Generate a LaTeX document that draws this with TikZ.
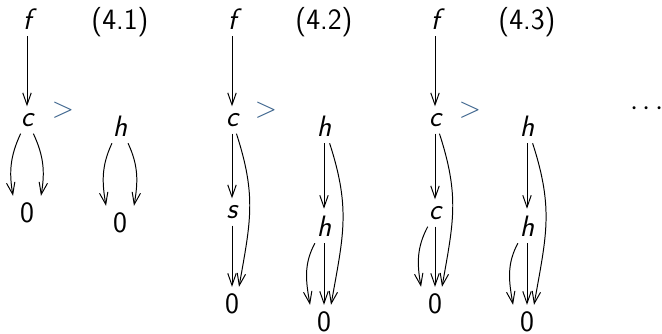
\documentclass[tikz,border=0pt]{standalone}
\usetikzlibrary{arrows.meta}

\definecolor{gtblue}{RGB}{59,99,140}
\newcommand{\lbl}[1]{{\slshape #1}}

\begin{document}
\begin{tikzpicture}[
    x=0.025cm, y=-0.025cm,
    every node/.style={font=\fontsize{21}{25}\selectfont\sffamily, inner sep=5pt, outer sep=0pt},
    arr/.style={-{Straight Barb[length=8.5pt,width=6pt]}, line width=0.7pt},
    gt/.style={text=gtblue, inner sep=0pt}
]

\useasboundingbox (0,0) rectangle (662,334);

% first pair
\node (fA) at (27,19) {\lbl{f}};
\node (cA) at (27,120) {\lbl{c}};
\node (zA) at (27,213) {0};
\node[gt] (gtA) at (63,110) {$>$};
\node (hA) at (120,126) {\lbl{h}};
\node (zA2) at (120,223) {0};
\node (eqA) at (120,22) {(4.1)};

\draw[arr] (fA) -- (cA);
\draw[arr] (cA) to[out=-115, in=100] (zA.north west);
\draw[arr] (cA) to[out=-65, in=80] (zA.north east);
\draw[arr] (hA) to[out=-115, in=100] (zA2.north west);
\draw[arr] (hA) to[out=-65, in=80] (zA2.north east);

% second pair
\node (fB) at (232,19) {\lbl{f}};
\node (cB) at (232,120) {\lbl{c}};
\node (sB) at (232,212) {\lbl{s}};
\node (zB) at (232,304) {0};
\node[gt] (gtB) at (266,110) {$>$};
\node (hB) at (324,126) {\lbl{h}};
\node (hB2) at (324,226) {\lbl{h}};
\node (zB2) at (324,322) {0};
\node (eqB) at (324,22) {(4.2)};

\draw[arr] (fB) -- (cB);
\draw[arr] (cB) -- (sB);
\draw[arr] (sB) -- (zB);
\draw[arr] (cB) to[out=-72, in=80, looseness=1.1] ([xshift=5pt]zB.north);
\draw[arr] (hB) -- (hB2);
\draw[arr] (hB) to[out=-72, in=80, looseness=1.1] ([xshift=5pt]zB2.north);
\draw[arr] (hB2) to[out=-118, in=100] (zB2.north west);
\draw[arr] (hB2) -- (zB2);

% third pair
\node (fC) at (435,19) {\lbl{f}};
\node (cC) at (435,120) {\lbl{c}};
\node (cC2) at (435,213) {\lbl{c}};
\node (zC) at (435,304) {0};
\node[gt] (gtC) at (470,110) {$>$};
\node (hC) at (527,126) {\lbl{h}};
\node (hC2) at (527,226) {\lbl{h}};
\node (zC2) at (527,322) {0};
\node (eqC) at (527,22) {(4.3)};

\draw[arr] (fC) -- (cC);
\draw[arr] (cC) -- (cC2);
\draw[arr] (cC) to[out=-72, in=80, looseness=1.1] ([xshift=5pt]zC.north);
\draw[arr] (cC2) to[out=-118, in=100] (zC.north west);
\draw[arr] (cC2) -- (zC);
\draw[arr] (hC) -- (hC2);
\draw[arr] (hC) to[out=-72, in=80, looseness=1.1] ([xshift=5pt]zC2.north);
\draw[arr] (hC2) to[out=-118, in=100] (zC2.north west);
\draw[arr] (hC2) -- (zC2);

\node[inner sep=0pt, anchor=base] (dots) at (647,116) {$\mathord{\cdot}\,\mathord{\cdot}\,\mathord{\cdot}$};
\end{tikzpicture}
\end{document}
